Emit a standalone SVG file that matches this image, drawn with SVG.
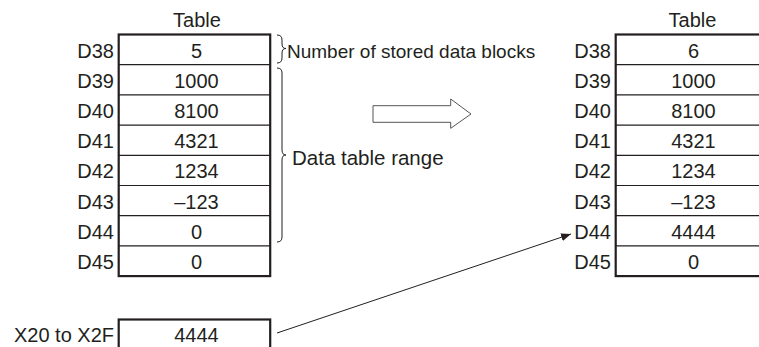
<svg xmlns="http://www.w3.org/2000/svg" width="759" height="347" viewBox="0 0 759 347">
<defs>
<style>
text{font-family:"Liberation Sans",Arial,sans-serif;font-size:20px;fill:#231f20}
.c{text-anchor:middle}
.r{text-anchor:end}
.outer{fill:#fff;stroke:#231f20;stroke-width:2.2}
.row{stroke:#231f20;stroke-width:1.2}
.brace{fill:none;stroke:#231f20;stroke-width:1}
.conn{fill:none;stroke:#231f20;stroke-width:1}
.hollow{fill:#fff;stroke:#555;stroke-width:1}
</style>
<marker id="ah" viewBox="0 0 10 8" refX="10" refY="4" markerWidth="10" markerHeight="8" markerUnits="userSpaceOnUse" orient="auto">
<path d="M0,0 L10,4 L0,8 Z" fill="#231f20"/>
</marker>
</defs>

<g id="leftTable">
<text class="c" x="197" y="26.5">Table</text>
<rect class="outer" x="118.7" y="34.5" width="151.5" height="241.6"/>
<line class="row" x1="118.7" y1="64.7" x2="270.2" y2="64.7"/>
<line class="row" x1="118.7" y1="94.9" x2="270.2" y2="94.9"/>
<line class="row" x1="118.7" y1="125.1" x2="270.2" y2="125.1"/>
<line class="row" x1="118.7" y1="155.3" x2="270.2" y2="155.3"/>
<line class="row" x1="118.7" y1="185.5" x2="270.2" y2="185.5"/>
<line class="row" x1="118.7" y1="215.7" x2="270.2" y2="215.7"/>
<line class="row" x1="118.7" y1="245.9" x2="270.2" y2="245.9"/>
<text class="r" x="114" y="57.5">D38</text>
<text class="r" x="114" y="87.7">D39</text>
<text class="r" x="114" y="117.9">D40</text>
<text class="r" x="114" y="148.1">D41</text>
<text class="r" x="114" y="178.3">D42</text>
<text class="r" x="114" y="208.5">D43</text>
<text class="r" x="114" y="238.7">D44</text>
<text class="r" x="114" y="268.9">D45</text>
<text class="c" x="196.5" y="57.5">5</text>
<text class="c" x="196.5" y="87.7">1000</text>
<text class="c" x="196.5" y="117.9">8100</text>
<text class="c" x="196.5" y="148.1">4321</text>
<text class="c" x="196.5" y="178.3">1234</text>
<text class="c" x="196.5" y="208.5">–123</text>
<text class="c" x="196.5" y="238.7">0</text>
<text class="c" x="196.5" y="268.9">0</text>
</g>

<g id="braces">
<path class="brace" d="M277,35 Q282,35 282,40 L282,44 Q282,48.5 286,48.5 Q282,48.5 282,53 L282,58 Q282,63 277,63"/>
<path class="brace" d="M277,68 Q282,68 282,73 L282,150 Q282,155 286,155 Q282,155 282,160 L282,237 Q282,242 277,242"/>
<text x="287" y="57.5" style="font-size:19px">Number of stored data blocks</text>
<text x="292" y="165" style="font-size:20.5px">Data table range</text>
</g>

<g id="transferArrow">
<path class="hollow" d="M373,105.7 L450.7,105.7 L450.7,99 L471,114 L450.7,128.3 L450.7,122.3 L373,122.3 Z"/>
</g>

<g id="rightTable">
<text class="c" x="692.5" y="26.5">Table</text>
<rect class="outer" x="615.7" y="34.5" width="160" height="241.6"/>
<line class="row" x1="615.7" y1="64.7" x2="775" y2="64.7"/>
<line class="row" x1="615.7" y1="94.9" x2="775" y2="94.9"/>
<line class="row" x1="615.7" y1="125.1" x2="775" y2="125.1"/>
<line class="row" x1="615.7" y1="155.3" x2="775" y2="155.3"/>
<line class="row" x1="615.7" y1="185.5" x2="775" y2="185.5"/>
<line class="row" x1="615.7" y1="215.7" x2="775" y2="215.7"/>
<line class="row" x1="615.7" y1="245.9" x2="775" y2="245.9"/>
<text class="r" x="611" y="57.5">D38</text>
<text class="r" x="611" y="87.7">D39</text>
<text class="r" x="611" y="117.9">D40</text>
<text class="r" x="611" y="148.1">D41</text>
<text class="r" x="611" y="178.3">D42</text>
<text class="r" x="611" y="208.5">D43</text>
<text class="r" x="611" y="238.7">D44</text>
<text class="r" x="611" y="268.9">D45</text>
<text class="c" x="693.5" y="57.5">6</text>
<text class="c" x="693.5" y="87.7">1000</text>
<text class="c" x="693.5" y="117.9">8100</text>
<text class="c" x="693.5" y="148.1">4321</text>
<text class="c" x="693.5" y="178.3">1234</text>
<text class="c" x="693.5" y="208.5">–123</text>
<text class="c" x="693.5" y="238.7">4444</text>
<text class="c" x="693.5" y="268.9">0</text>
</g>

<g id="sourceBox">
<rect class="outer" x="118.7" y="319.5" width="151.5" height="30.2"/>
<text class="r" x="114" y="342">X20 to X2F</text>
<text class="c" x="196.5" y="342">4444</text>
</g>

<g id="connectors">
<line class="conn" x1="277" y1="333" x2="571" y2="234" marker-end="url(#ah)"/>
</g>
</svg>
